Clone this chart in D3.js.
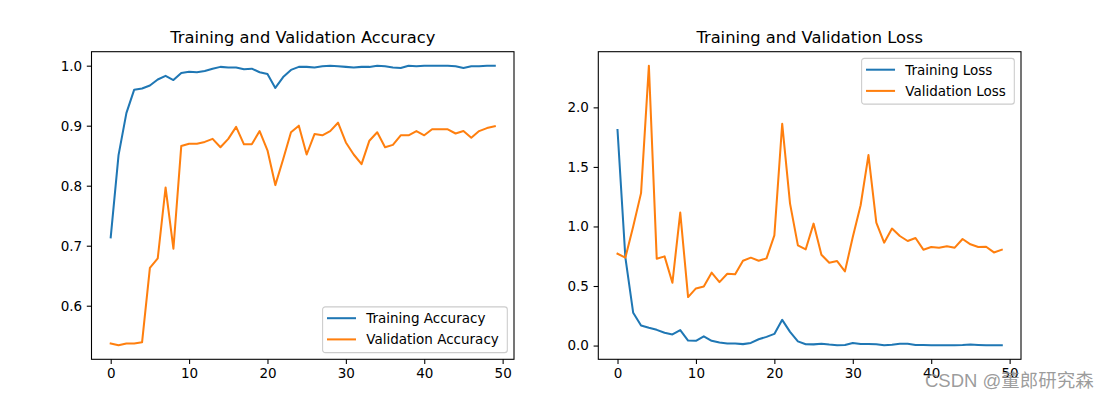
<!DOCTYPE html>
<html>
<head>
<meta charset="utf-8">
<script src="https://cdn.jsdelivr.net/npm/d3@7"></script>
<style>
  body { margin: 0; background: #fff; }
  svg { display: block; font-family: 'DejaVu Sans', sans-serif; }
</style>
</head>
<body>
<script>
// Values (50 epochs)
const epochs = d3.range(50);

const trainAcc = [0.714, 0.851, 0.921, 0.960, 0.962, 0.967, 0.977, 0.983, 0.976, 0.988,
  0.990, 0.989, 0.991, 0.995, 0.998, 0.997, 0.997, 0.994, 0.995, 0.989,
  0.986, 0.963, 0.981, 0.993, 0.998, 0.998, 0.997, 0.999, 1.000, 0.999,
  0.998, 0.997, 0.998, 0.998, 1.000, 0.999, 0.997, 0.996, 1.000, 0.999,
  1.000, 1.000, 1.000, 1.000, 0.999, 0.996, 0.999, 0.999, 1.000, 1.000];

const valAcc = [0.537, 0.534, 0.537, 0.537, 0.539, 0.663, 0.679, 0.797, 0.695, 0.866,
  0.870, 0.870, 0.873, 0.878, 0.864, 0.878, 0.898, 0.869, 0.869, 0.891,
  0.859, 0.801, 0.844, 0.889, 0.900, 0.852, 0.886, 0.884, 0.891, 0.905,
  0.872, 0.852, 0.836, 0.875, 0.889, 0.864, 0.868, 0.884, 0.884, 0.891,
  0.884, 0.894, 0.894, 0.894, 0.887, 0.891, 0.880, 0.891, 0.896, 0.899];

const trainLoss = [1.81, 0.74, 0.275, 0.168, 0.149, 0.132, 0.107, 0.093, 0.130, 0.042,
  0.040, 0.078, 0.040, 0.025, 0.018, 0.017, 0.012, 0.022, 0.053, 0.073,
  0.098, 0.216, 0.115, 0.035, 0.011, 0.010, 0.016, 0.008, 0.003, 0.005,
  0.022, 0.013, 0.013, 0.011, 0.003, 0.006, 0.015, 0.015, 0.005, 0.004,
  0.003, 0.003, 0.003, 0.003, 0.004, 0.008, 0.005, 0.003, 0.002, 0.002];

const valLoss = [0.771, 0.738, 1.000, 1.280, 2.350, 0.729, 0.749, 0.527, 1.117, 0.407,
  0.480, 0.496, 0.612, 0.533, 0.603, 0.598, 0.712, 0.738, 0.712, 0.732,
  0.925, 1.862, 1.192, 0.841, 0.808, 1.024, 0.763, 0.696, 0.709, 0.623,
  0.911, 1.178, 1.599, 1.032, 0.864, 0.982, 0.920, 0.878, 0.903, 0.805,
  0.827, 0.822, 0.833, 0.822, 0.895, 0.850, 0.827, 0.830, 0.782, 0.805];

const xTicks = [0, 10, 20, 30, 40, 50];
const accTicks = [0.6, 0.7, 0.8, 0.9, 1.0];
const lossTicks = [0.0, 0.5, 1.0, 1.5, 2.0];

const colors = ['#1f77b4', '#ff7f0e'];

const svgWidth = 1111;
const svgHeight = 398;
const fontSize = 13.5;
const tickLen = 4.7;

const svg = d3.select('body')
  .append('svg')
  .attr('width', svgWidth)
  .attr('height', svgHeight);

svg.append('rect')
  .attr('width', svgWidth)
  .attr('height', svgHeight)
  .attr('fill', '#fff');

// matplotlib style auto limits: 5% margin on each side
function padded(values) {
  const [lo, hi] = d3.extent(values);
  const m = (hi - lo) * 0.05;
  return [lo - m, hi + m];
}

function drawPanel(opts) {
  const { left, right, top, bottom } = opts.box;
  const g = svg.append('g');

  const xScale = d3.scaleLinear()
    .domain(padded(epochs))
    .range([left, right]);

  const yScale = d3.scaleLinear()
    .domain(padded(opts.series[0].concat(opts.series[1])))
    .range([bottom, top]);

  // Lines
  const line = d3.line()
    .x((d, i) => xScale(epochs[i]))
    .y(d => yScale(d));

  opts.series.forEach((s, k) => {
    g.append('path')
      .datum(s)
      .attr('d', line)
      .attr('fill', 'none')
      .attr('stroke', colors[k])
      .attr('stroke-width', 2.03)
      .attr('stroke-linejoin', 'round')
      .attr('stroke-linecap', 'square');
  });

  // Axes
  const xAxis = g.append('g')
    .attr('transform', `translate(0,${bottom})`)
    .call(d3.axisBottom(xScale).tickValues(xTicks).tickSize(tickLen).tickPadding(4.3).tickFormat(d3.format('d')));

  const yAxis = g.append('g')
    .attr('transform', `translate(${left},0)`)
    .call(d3.axisLeft(yScale).tickValues(opts.yTicks).tickSize(tickLen).tickPadding(4.7).tickFormat(d3.format('.1f')));

  [xAxis, yAxis].forEach(ax => {
    ax.select('.domain').remove();
    ax.selectAll('line').attr('stroke', '#000').attr('stroke-width', 1.08);
    ax.selectAll('text')
      .attr('fill', '#000')
      .style('font-family', "'DejaVu Sans', sans-serif")
      .style('font-size', fontSize + 'px');
  });

  // Frame
  g.append('rect')
    .attr('x', left)
    .attr('y', top)
    .attr('width', right - left)
    .attr('height', bottom - top)
    .attr('fill', 'none')
    .attr('stroke', '#000')
    .attr('stroke-width', 1.08);

  // Title
  g.append('text')
    .attr('x', (left + right) / 2)
    .attr('y', 43.3)
    .attr('text-anchor', 'middle')
    .style('font-size', '16.3px')
    .text(opts.title);

  // Legend
  const legend = g.append('g');
  const box = legend.append('rect')
    .attr('rx', 2.7)
    .attr('ry', 2.7)
    .attr('fill', 'rgba(255,255,255,0.8)')
    .attr('stroke', '#cccccc')
    .attr('stroke-width', 1.08);

  const rowY = [11.3, 32.5];
  let textW = 0;
  opts.labels.forEach((lab, k) => {
    legend.append('line')
      .attr('x1', 5.4)
      .attr('x2', 32.4)
      .attr('y1', rowY[k])
      .attr('y2', rowY[k])
      .attr('stroke', colors[k])
      .attr('stroke-width', 2.03)
      .attr('stroke-linecap', 'square');
    const t = legend.append('text')
      .attr('x', 43.6)
      .attr('y', rowY[k] + 5)
      .style('font-size', fontSize + 'px')
      .text(lab);
    textW = Math.max(textW, t.node().getComputedTextLength());
  });
  const w = 43.6 + textW + 8.5;
  const h = 45.7;
  box.attr('width', w).attr('height', h);

  const pad = 6.7;
  const lx = right - pad - w;
  const ly = opts.legendLoc === 'lower right' ? bottom - pad - h : top + pad;
  legend.attr('transform', `translate(${lx},${ly})`);
}

drawPanel({
  box: { left: 91.5, right: 514, top: 51.7, bottom: 359.3 },
  series: [trainAcc, valAcc],
  yTicks: accTicks,
  title: 'Training and Validation Accuracy',
  labels: ['Training Accuracy', 'Validation Accuracy'],
  legendLoc: 'lower right'
});

drawPanel({
  box: { left: 598.3, right: 1021, top: 51.7, bottom: 359.3 },
  series: [trainLoss, valLoss],
  yTicks: lossTicks,
  title: 'Training and Validation Loss',
  labels: ['Training Loss', 'Validation Loss'],
  legendLoc: 'upper right'
});

// Watermark in the corner, drawn over the tick labels like in the picture
svg.append('text')
  .attr('x', 925)
  .attr('y', 386.5)
  .attr('fill', '#8a8a8a')
  .attr('fill-opacity', 0.85)
  .style('font-family', "'Liberation Sans', 'Noto Sans CJK SC', sans-serif")
  .style('font-size', '18.5px')
  .text('CSDN @董郎研究森');
</script>
</body>
</html>
